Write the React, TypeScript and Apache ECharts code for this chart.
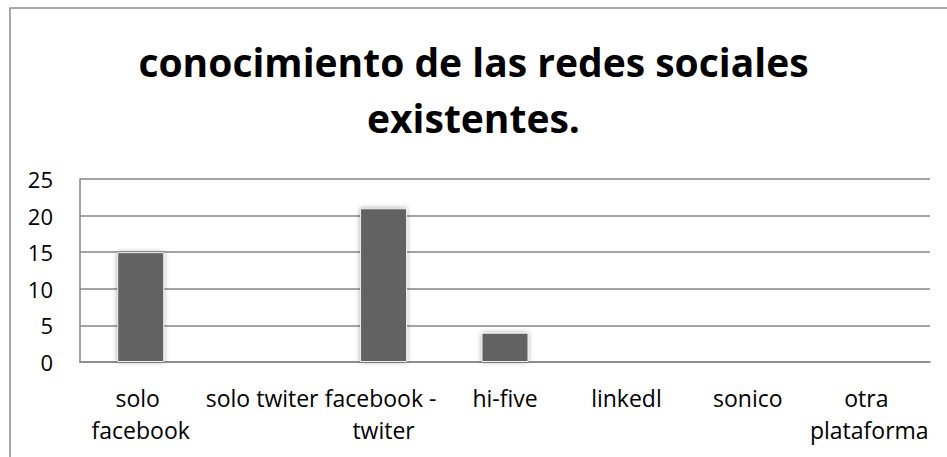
import React, { useEffect, useRef } from "react";
import * as echarts from "echarts";

const titleText = "conocimiento de las redes sociales\nexistentes.";
const categories = [
  "solo facebook",
  "solo twiter",
  "facebook - twiter",
  "hi-five",
  "linkedl",
  "sonico",
  "otra plataforma",
];
const values = [15, 0, 21, 4, 0, 0, 0];
const yMin = 0;
const yMax = 25;
const yStep = 5;

export default function App() {
  const ref = useRef<HTMLDivElement>(null);
  useEffect(() => {
    document.body.style.margin = "0";
    const chart = echarts.init(ref.current!, undefined, { renderer: "svg" });
    const font = "'Open Sans', sans-serif";
    chart.setOption({
      animation: false,
      backgroundColor: "#ffffff",
      title: {
        text: titleText,
        left: "center",
        top: 33,
        padding: 0,
        textStyle: {
          fontFamily: font,
          fontSize: 39,
          fontWeight: "bold",
          color: "#000000",
          lineHeight: 56,
        },
      },
      graphic: [
        {
          type: "rect",
          shape: { x: 10, y: 8, width: 960, height: 480 },
          style: { fill: "none", stroke: "#8c8c8c", lineWidth: 1.5 },
          silent: true,
        },
      ],
      grid: { left: 80, right: 17, top: 179, bottom: 95, containLabel: false },
      xAxis: {
        type: "category",
        data: categories,
        axisLine: { show: true, lineStyle: { color: "#868686", width: 1.5 } },
        axisTick: { show: false },
        axisLabel: {
          interval: 0,
          color: "#000000",
          fontFamily: font,
          fontSize: 23,
          lineHeight: 32,
          margin: 20,
          width: 124,
          overflow: "break",
        },
      },
      yAxis: {
        type: "value",
        min: yMin,
        max: yMax,
        interval: yStep,
        axisLine: { show: true, lineStyle: { color: "#868686", width: 1.5 } },
        axisTick: { show: false },
        splitLine: { show: true, lineStyle: { color: "#868686", width: 1.5 } },
        axisLabel: {
          color: "#000000",
          fontFamily: font,
          fontSize: 22,
          margin: 27,
        },
      },
      series: [
        {
          type: "bar",
          data: values,
          barWidth: 47,
          itemStyle: {
            color: "#626262",
            borderColor: "#eeeeee",
            borderWidth: 1,
            shadowBlur: 5,
            shadowColor: "rgba(0,0,0,0.35)",
          },
        },
      ],
    });
    return () => chart.dispose();
  }, []);
  return (
    <div
      ref={ref}
      style={{ position: "absolute", left: 0, top: 0, width: 947, height: 457 }}
    />
  );
}
